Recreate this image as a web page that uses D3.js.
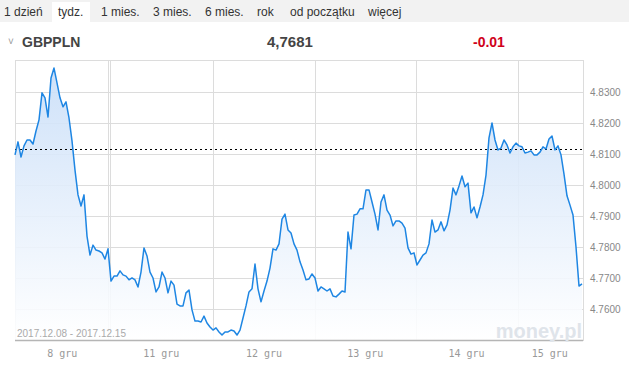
<!DOCTYPE html>
<html>
<head>
<meta charset="utf-8">
<script src="https://cdn.jsdelivr.net/npm/d3@7/dist/d3.min.js"></script>
<style>
  body { margin: 0; background: #fff; font-family: Arial, "Liberation Sans", sans-serif; }
  svg { display: block; }
</style>
</head>
<body>
<svg id="chart" width="629" height="371"></svg>
<script>
// zakładki okresu
const tabs = ['1 dzień', 'tydz.', '1 mies.', '3 mies.', '6 mies.', 'rok', 'od początku', 'więcej'];
const activeTab = 'tydz.';

const symbol = 'GBPPLN';
const lastPrice = '4,7681';
const change = '-0.01';
const prevClose = 4.8116;
const dateRange = '2017.12.08 - 2017.12.15';

// kurs GBPPLN, notowania w równych odstępach
const rates = [
  4.8097, 4.8139, 4.8090, 4.8126, 4.8145, 4.8145, 4.8132, 4.8174, 4.8210, 4.8297,
  4.8281, 4.8219, 4.8345, 4.8377, 4.8329, 4.8281, 4.8252, 4.8268, 4.8216, 4.8142,
  4.8048, 4.7968, 4.7932, 4.7968, 4.7835, 4.7774, 4.7806, 4.7790, 4.7787, 4.7781,
  4.7761, 4.7794,
  4.7690, 4.7706, 4.7706, 4.7723, 4.7710, 4.7706, 4.7694, 4.7700, 4.7694, 4.7671,
  4.7719, 4.7797, 4.7771, 4.7719, 4.7700, 4.7655, 4.7671, 4.7719, 4.7700, 4.7652,
  4.7690, 4.7677, 4.7616, 4.7610, 4.7610, 4.7652, 4.7661, 4.7597, 4.7561, 4.7561,
  4.7558, 4.7577, 4.7555, 4.7542,
  4.7532, 4.7539, 4.7526, 4.7516, 4.7526, 4.7526, 4.7532, 4.7529, 4.7516, 4.7532,
  4.7571, 4.7610, 4.7655, 4.7665, 4.7745, 4.7665, 4.7623, 4.7658, 4.7690, 4.7732,
  4.7794, 4.7790, 4.7810, 4.7890, 4.7906, 4.7855, 4.7845, 4.7810, 4.7790, 4.7752,
  4.7726, 4.7694, 4.7697, 4.7713,
  4.7700, 4.7658, 4.7671, 4.7665, 4.7658, 4.7665, 4.7642, 4.7639, 4.7648, 4.7658,
  4.7655, 4.7848, 4.7794, 4.7903, 4.7906, 4.7923, 4.7923, 4.7984, 4.7984, 4.7945,
  4.7906, 4.7855, 4.7945, 4.7968, 4.7919, 4.7903, 4.7868, 4.7884, 4.7884, 4.7877,
  4.7861, 4.7797, 4.7777, 4.7781,
  4.7742, 4.7758, 4.7774, 4.7781, 4.7810, 4.7887, 4.7848, 4.7855, 4.7881, 4.7852,
  4.7871, 4.7919, 4.7990, 4.7968, 4.7997, 4.8029, 4.7994, 4.8006, 4.7910, 4.7929,
  4.7894, 4.7929, 4.7968, 4.8032, 4.8152, 4.8200, 4.8145, 4.8113, 4.8119, 4.8145,
  4.8129, 4.8103, 4.8123, 4.8135,
  4.8126, 4.8123, 4.8103, 4.8106, 4.8110, 4.8097, 4.8097, 4.8106, 4.8123, 4.8116,
  4.8148, 4.8158, 4.8113, 4.8126, 4.8097, 4.8035, 4.7965, 4.7935, 4.7903, 4.7800,
  4.7674, 4.7681
];

// granice dni (w indeksach notowań) i podpisy osi X
const dayBreaks = [31.5, 66, 100, 133.5, 167.5];
const dayLabels = ['8 gru', '11 gru', '12 gru', '13 gru', '14 gru', '15 gru'];
const yTicks = [4.76, 4.77, 4.78, 4.79, 4.80, 4.81, 4.82, 4.83];

const svg = d3.select('#chart');
const plotLeft = 15, plotRight = 583, plotTop = 60, plotBottom = 340;

// pasek zakładek
svg.append('rect').attr('x', 0).attr('y', 0).attr('width', 629).attr('height', 22).attr('fill', '#f2f2f2');
const tabX = [4, 58, 101, 153, 205, 257, 290, 368];
tabs.forEach((t, i) => {
    if (t === activeTab) {
        svg.append('rect').attr('x', tabX[i] - 6).attr('y', 2).attr('width', 38).attr('height', 22).attr('fill', '#fff');
    }
    svg.append('text')
        .attr('x', tabX[i]).attr('y', 16)
        .attr('font-size', 12).attr('fill', '#333')
        .text(t);
});

// nagłówek
svg.append('text').attr('x', 8).attr('y', 45).attr('font-size', 10).attr('fill', '#999').text('˅');
svg.append('text').attr('x', 22).attr('y', 47).attr('font-size', 14).attr('font-weight', 'bold').attr('fill', '#444').text(symbol);
svg.append('text').attr('x', 267).attr('y', 47).attr('font-size', 15).attr('font-weight', 'bold').attr('fill', '#444').text(lastPrice);
svg.append('text').attr('x', 473).attr('y', 47).attr('font-size', 14).attr('font-weight', 'bold').attr('fill', '#d0021b').text(change);

const x = d3.scaleLinear().domain([0, rates.length - 1]).range([plotLeft, plotRight - 1]);
const y = d3.scaleLinear().domain([4.75, 4.8403]).range([plotBottom, plotTop]);

// siatka
const grid = svg.append('g').attr('stroke', '#dcdcdc').attr('shape-rendering', 'crispEdges');
yTicks.forEach(v => {
    grid.append('line').attr('x1', plotLeft).attr('x2', plotRight).attr('y1', Math.round(y(v)) + 0.5).attr('y2', Math.round(y(v)) + 0.5);
});
dayBreaks.forEach((b, i) => {
    const px = Math.round(x(b)) + 0.5;
    grid.append('line').attr('x1', px).attr('x2', px).attr('y1', plotTop).attr('y2', plotBottom);
    if (i === 0) grid.append('line').attr('x1', px - 2).attr('x2', px - 2).attr('y1', plotTop).attr('y2', plotBottom);
});
grid.append('rect').attr('x', plotLeft + 0.5).attr('y', plotTop + 0.5).attr('width', plotRight - plotLeft).attr('height', plotBottom - plotTop)
    .attr('fill', 'none');

// gradient wypełnienia
const defs = svg.append('defs');
const grad = defs.append('linearGradient').attr('id', 'fill').attr('x1', 0).attr('y1', 0).attr('x2', 0).attr('y2', 1);
grad.append('stop').attr('offset', '0%').attr('stop-color', '#c9def8');
grad.append('stop').attr('offset', '100%').attr('stop-color', '#ffffff');

const area = d3.area()
    .x((d, i) => x(i))
    .y0(plotBottom)
    .y1(d => y(d));
const line = d3.line()
    .x((d, i) => x(i))
    .y(d => y(d));

svg.append('path').datum(rates).attr('d', area).attr('fill', 'url(#fill)').attr('opacity', 0.9);

// poprzednie zamknięcie
svg.append('line')
    .attr('x1', plotLeft).attr('x2', plotRight)
    .attr('y1', Math.round(y(prevClose)) + 0.5).attr('y2', Math.round(y(prevClose)) + 0.5)
    .attr('stroke', '#000').attr('stroke-dasharray', '2,3');

svg.append('path').datum(rates).attr('d', line)
    .attr('fill', 'none').attr('stroke', '#1e86e3').attr('stroke-width', 1.5).attr('stroke-linejoin', 'round');

// oś dolna
svg.append('line').attr('x1', plotLeft).attr('x2', plotRight).attr('y1', plotBottom + 0.5).attr('y2', plotBottom + 0.5)
    .attr('stroke', '#b5b5b5').attr('stroke-width', 1.5);

// podpisy osi Y
const yAxis = d3.axisRight(y).tickValues(yTicks).tickSize(0).tickPadding(0).tickFormat(d3.format('.4f'));
svg.append('g').attr('transform', `translate(${plotRight + 7},0)`).call(yAxis)
    .call(g => g.select('.domain').remove())
    .selectAll('text').attr('font-family', 'Liberation Sans, Arial, sans-serif').attr('font-size', 10).attr('fill', '#888');

// podpisy osi X w środku każdego dnia
const edges = [0, ...dayBreaks, rates.length - 1];
dayLabels.forEach((lab, i) => {
    svg.append('text')
        .attr('x', x((edges[i] + edges[i + 1]) / 2))
        .attr('y', 357)
        .attr('text-anchor', 'middle')
        .attr('font-family', 'DejaVu Sans Mono, monospace')
        .attr('font-size', 10).attr('fill', '#999')
        .text(lab);
});

svg.append('text').attr('x', 17).attr('y', 337)
    .attr('font-family', 'Liberation Sans, Arial, sans-serif')
    .attr('font-size', 10).attr('fill', '#aaa').text(dateRange);

svg.append('text').attr('x', 582).attr('y', 338).attr('text-anchor', 'end')
    .attr('font-size', 20).attr('font-weight', 'bold').attr('fill', '#dfe4ea').text('money.pl');
</script>
</body>
</html>
